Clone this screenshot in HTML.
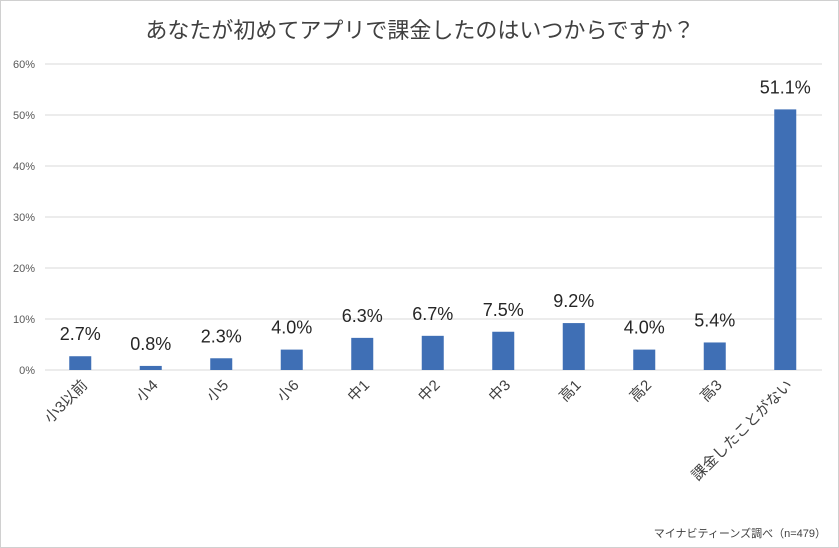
<!DOCTYPE html>
<html><head><meta charset="utf-8"><style>
body{margin:0;background:#fff;}
svg{display:block;font-family:"Liberation Sans","Noto Sans CJK JP",sans-serif;}
</style></head><body>
<svg id="c" width="839" height="548">
<rect x="0.5" y="0.5" width="838" height="547" fill="#fff" stroke="#d0d0d0"/>
<text x="420" y="38" text-anchor="middle" font-size="22" fill="#404040">あなたが初めてアプリで課金したのはいつからですか？</text>
<g id="grid"></g><g id="bars"></g><g id="labels"></g>
<text x="826" y="537" text-anchor="end" font-size="11" fill="#404040">マイナビティーンズ調べ（n=479）</text>
</svg>
<script>
const categories=["小3以前","小4","小5","小6","中1","中2","中3","高1","高2","高3","課金したことがない"];
const values=[2.7,0.8,2.3,4.0,6.3,6.7,7.5,9.2,4.0,5.4,51.1];
const ticks=[0,10,20,30,40,50,60];
const NS="http://www.w3.org/2000/svg";
const x0=45,step=70.5,yb=370,ppu=306/60;
const y=v=>yb-v*ppu, xc=i=>x0+step*(i+0.5);
function mk(t,a,p){const e=document.createElementNS(NS,t);for(const k in a)e.setAttribute(k,a[k]);document.getElementById(p).appendChild(e);return e;}
ticks.forEach(t=>{
 const l=mk("line",{x1:x0,x2:822,y1:y(t),y2:y(t),stroke:"#d9d9d9","stroke-width":1},"grid");
 
 
 const tx=mk("text",{x:35,y:y(t)+4,"text-anchor":"end","font-size":11,fill:"#595959"},"grid");
 tx.textContent=t+"%";
 
 
});
values.forEach((v,i)=>{
 const r=mk("rect",{x:xc(i)-11,y:y(v),width:22,height:v*ppu,fill:"#3f6fb5"},"bars");
 
 
 const t=mk("text",{x:xc(i),y:y(v)-16,"text-anchor":"middle","font-size":18,fill:"#262626"},"labels");
 t.textContent=v.toFixed(1)+"%";
 
 
 const cx=xc(i)+8,cy=386;
 const c=mk("text",{x:cx,y:cy,"text-anchor":"end","font-size":15,fill:"#404040",transform:`rotate(-45 ${cx} ${cy})`},"labels");
 c.textContent=categories[i];
 
 
});
</script>
</body></html>
